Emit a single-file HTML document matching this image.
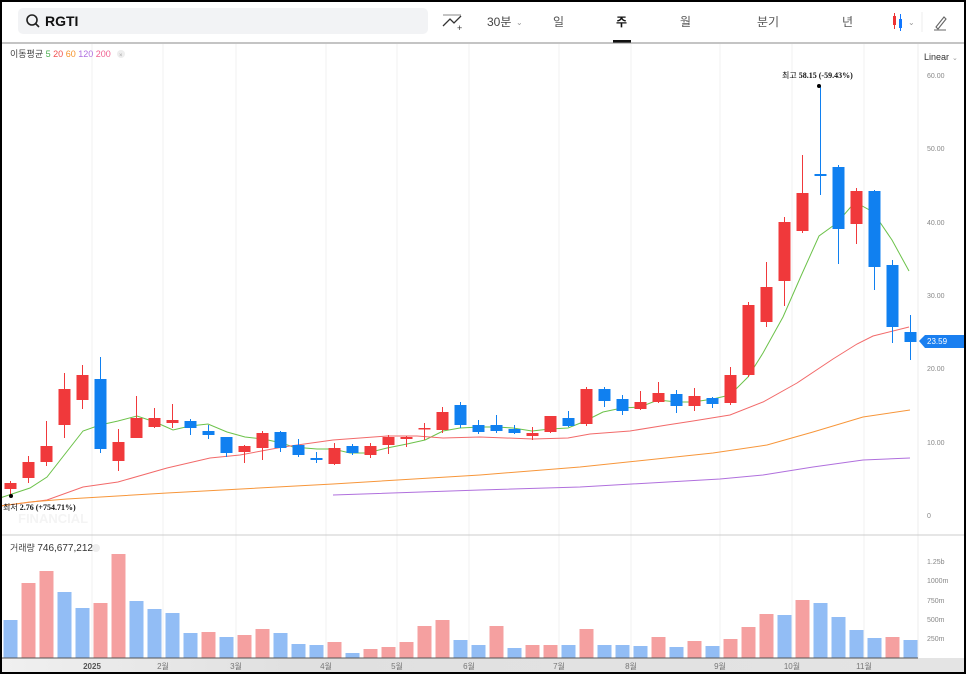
<!DOCTYPE html>
<html><head><meta charset="utf-8"><style>
html,body{margin:0;padding:0;background:#000;}
#w{position:absolute;left:2px;top:2px;width:962px;height:670px;background:#fff;overflow:hidden;font-family:"Liberation Sans","Noto Sans CJK KR",sans-serif;}
svg{position:absolute;left:-2px;top:-2px;}
</style></head><body><div id="w">
<svg id="s" width="966" height="674" xmlns="http://www.w3.org/2000/svg" font-family="Liberation Sans, Noto Sans CJK KR, sans-serif">
<rect x="18" y="8" width="410" height="26" rx="5" fill="#f2f3f5"/>
<circle cx="32" cy="20" r="5" fill="none" stroke="#222" stroke-width="1.6"/>
<line x1="35.5" y1="23.5" x2="39" y2="27" stroke="#222" stroke-width="1.6"/>
<text x="45" y="26" font-size="14" font-weight="bold" fill="#111">RGTI</text>
<polyline points="443,26 450,19 454,23 461,16" fill="none" stroke="#333" stroke-width="1.3"/>
<line x1="443" y1="15" x2="461" y2="15" stroke="#888" stroke-width="1"/>
<text x="457" y="31" font-size="9" fill="#333">+</text>
<text x="487" y="26" font-size="12" fill="#444">30분</text><text x="516" y="25" font-size="8" fill="#999">⌄</text>
<text x="553" y="26" font-size="12" fill="#555">일</text>
<text x="616" y="26" font-size="12" fill="#111" font-weight="bold">주</text>
<rect x="613" y="40" width="18" height="3" fill="#111"/>
<text x="680" y="26" font-size="12" fill="#555">월</text>
<text x="757" y="26" font-size="12" fill="#555">분기</text>
<text x="842" y="26" font-size="12" fill="#555">년</text>
<rect x="893" y="16" width="3" height="9" fill="#e33"/><line x1="894.5" y1="13" x2="894.5" y2="29" stroke="#e33"/>
<rect x="899" y="19" width="3" height="9" fill="#17f"/><line x1="900.5" y1="14" x2="900.5" y2="31" stroke="#17f"/>
<text x="908" y="25" font-size="8" fill="#999">⌄</text>
<line x1="922" y1="12" x2="922" y2="32" stroke="#eee"/>
<path d="M936 27 L944 17 L946 19 L938 29 Z" fill="none" stroke="#666" stroke-width="1.1"/>
<line x1="934" y1="30" x2="946" y2="30" stroke="#666"/>
<line x1="0" y1="43" x2="966" y2="43" stroke="#888" stroke-width="1"/>
<g id="grid"></g>
<line x1="918" y1="44" x2="918" y2="658" stroke="#eee"/>
<line x1="0" y1="535" x2="966" y2="535" stroke="#ccc"/>
<text x="10" y="57" font-size="9" fill="#444">이동평균 <tspan fill="#4caf50">5</tspan> <tspan fill="#f05050">20</tspan> <tspan fill="#f7932a">60</tspan> <tspan fill="#b070e0">120</tspan> <tspan fill="#f06090">200</tspan></text>
<circle cx="121" cy="54" r="4" fill="#eee"/><text x="119" y="57" font-size="6" fill="#aaa">×</text>
<text x="924" y="60" font-size="9" fill="#333">Linear</text><text x="952" y="60" font-size="7" fill="#999">⌄</text>
<g font-size="7" fill="#888">
<text x="927" y="78">60.00</text><text x="927" y="151">50.00</text><text x="927" y="225">40.00</text><text x="927" y="298">30.00</text><text x="927" y="371">20.00</text><text x="927" y="445">10.00</text><text x="927" y="518">0</text>
<text x="927" y="564">1.25b</text><text x="927" y="583">1000m</text><text x="927" y="603">750m</text><text x="927" y="622">500m</text><text x="927" y="641">250m</text>
</g>
<text x="18" y="523" font-size="13" font-weight="bold" fill="#f4f4f4">FINANCIAL</text>
<text x="10" y="551" font-size="9" fill="#444">거래량 <tspan font-size="10" fill="#333">746,677,212</tspan></text>
<circle cx="96" cy="548" r="4" fill="#eee"/>
<g id="vol"></g>
<g id="ma"></g>
<g id="cd"></g>
<circle cx="819" cy="86" r="2" fill="#000"/>
<text x="782" y="78" font-size="8" fill="#111" font-family="Liberation Serif, Noto Sans CJK KR, serif">최고  <tspan font-weight="bold">58.15 (-59.43%)</tspan></text>
<circle cx="11" cy="496" r="2" fill="#000"/>
<text x="3" y="510" font-size="8" fill="#111" font-family="Liberation Serif, Noto Sans CJK KR, serif">최저  <tspan font-weight="bold">2.76 (+754.71%)</tspan></text>
<path d="M919 341 L925 335 L966 335 L966 348 L925 348 Z" fill="#1a7ff0"/>
<text x="927" y="344" font-size="8" fill="#fff">23.59</text>
<defs><linearGradient id="gb" x1="0" x2="1"><stop offset="0" stop-color="#f0f0f0"/><stop offset="0.3" stop-color="#e0e0e0"/><stop offset="1" stop-color="#e4e4e4"/></linearGradient></defs>
<rect x="0" y="658" width="966" height="14" fill="url(#gb)"/>
<line x1="0" y1="658" x2="918" y2="658" stroke="#555"/>
<g font-size="8" fill="#777" text-anchor="middle">
<text x="92" y="669" font-weight="bold" fill="#555">2025</text><text x="163" y="669">2월</text><text x="236" y="669">3월</text><text x="326" y="669">4월</text><text x="397" y="669">5월</text><text x="469" y="669">6월</text><text x="559" y="669">7월</text><text x="631" y="669">8월</text><text x="720" y="669">9월</text><text x="792" y="669">10월</text><text x="864" y="669">11월</text>
</g>
</svg></div>
<script>
var NS="http://www.w3.org/2000/svg";
function el(p,t,a){var e=document.createElementNS(NS,t);for(var k in a)e.setAttribute(k,a[k]);document.getElementById(p).appendChild(e);}
[92,163,236,326,397,469,559,631,720,792,864].forEach(function(x){el("grid","line",{x1:x,y1:44,x2:x,y2:658,stroke:"#f2f2f2"});});
var R="#f0393b",B="#1080f0";
var c=[["r",483,489,481,494],["r",462,478,456,483],["r",446,462,421,466],["r",389,425,373,438],["r",375,400,365,409],["b",379,449,357,453],["r",442,461,429,471],["r",418,438,396,438],["r",418,427,408,428],["r",420,423,404,428],["b",421,428,419,435],["b",431,435,425,439],["b",437,453,437,457],["r",446,452,445,463],["r",433,448,431,460],["b",432,448,431,452],["b",445,455,439,457],["b",458,460,452,463],["r",448,464,443,465],["b",446,453,444,455],["r",446,455,443,458],["r",437,445,435,454],["r",437,439,436,447],["r",428,429,423,440],["r",412,430,407,433],["b",405,425,402,428],["b",425,432,420,434],["b",425,431,415,433],["b",429,433,425,434],["r",433,436,427,440],["r",416,432,416,433],["b",418,426,411,427],["r",389,424,387,426],["b",389,401,387,407],["b",399,411,395,415],["r",402,409,391,410],["r",393,402,382,403],["b",394,406,390,413],["r",396,406,388,411],["b",398,404,397,408],["r",375,403,367,405],["r",305,375,302,377],["r",287,322,262,327],["r",222,281,217,306],["r",193,231,155,233],["b",174,176,86,195],["b",167,229,165,264],["r",191,224,188,244],["b",191,267,190,290],["b",265,327,260,343],["b",332,342,315,360]];
c.forEach(function(d,i){var x=10.5+18*i,col=d[0]=="r"?R:B;
el("cd","line",{x1:x,y1:d[3],x2:x,y2:d[4],stroke:col,"stroke-width":1});
var h=Math.max(d[2]-d[1],1.5);el("cd","rect",{x:x-6,y:d[1],width:12,height:h,fill:col});});
var vr="#f5a0a0",vb="#92bdf5";
var v=[["b",620],["r",583],["r",571],["b",592],["b",608],["r",603],["r",554],["b",601],["b",609],["b",613],["b",633],["r",632],["b",637],["r",635],["r",629],["b",633],["b",644],["b",645],["r",642],["b",653],["r",649],["r",647],["r",642],["r",626],["r",620],["b",640],["b",645],["r",626],["b",648],["r",645],["r",645],["b",645],["r",629],["b",645],["b",645],["b",646],["r",637],["b",647],["r",641],["b",646],["r",639],["r",627],["r",614],["b",615],["r",600],["b",603],["b",617],["b",630],["b",638],["r",637],["b",640]];
v.forEach(function(d,i){var x=10.5+18*i;el("vol","rect",{x:x-7,y:d[1],width:14,height:658-d[1],fill:d[0]=="r"?vr:vb});});
function pl(pts,col){el("ma","polyline",{points:pts,fill:"none",stroke:col,"stroke-width":1});}
pl("0,498 30,488 47,477 83,431 100,425 118,421 137,416 155,422 173,430 190,426 208,424 227,432 245,437 263,439 282,443 293,447 317,449 333,449 350,453 367,453 387,448 407,444 425,440 443,431 460,428 480,427 497,427 513,428 532,431 550,429 568,428 583,422 603,412 622,408 640,407 658,400 677,402 693,402 713,399 730,395 748,377 763,353 783,317 801,276 819,236 837,223 855,202 873,212 892,240 909,271","#6cc24a");
pl("0,506 47,500 83,487 118,482 167,468 210,458 240,455 283,447 333,440 387,436 417,436 443,438 480,437 533,439 568,438 590,434 630,431 667,425 693,421 730,415 763,402 797,383 833,359 857,344 873,336 909,327","#f26a6a");
pl("0,506 30,502 67,499 167,493 333,484 480,475 580,467 713,453 767,445 813,432 863,417 910,410","#f7963a");
pl("333,495 480,490 580,487 720,479 763,475 813,467 863,460 910,458","#b070dd");
</script>
</body></html>
